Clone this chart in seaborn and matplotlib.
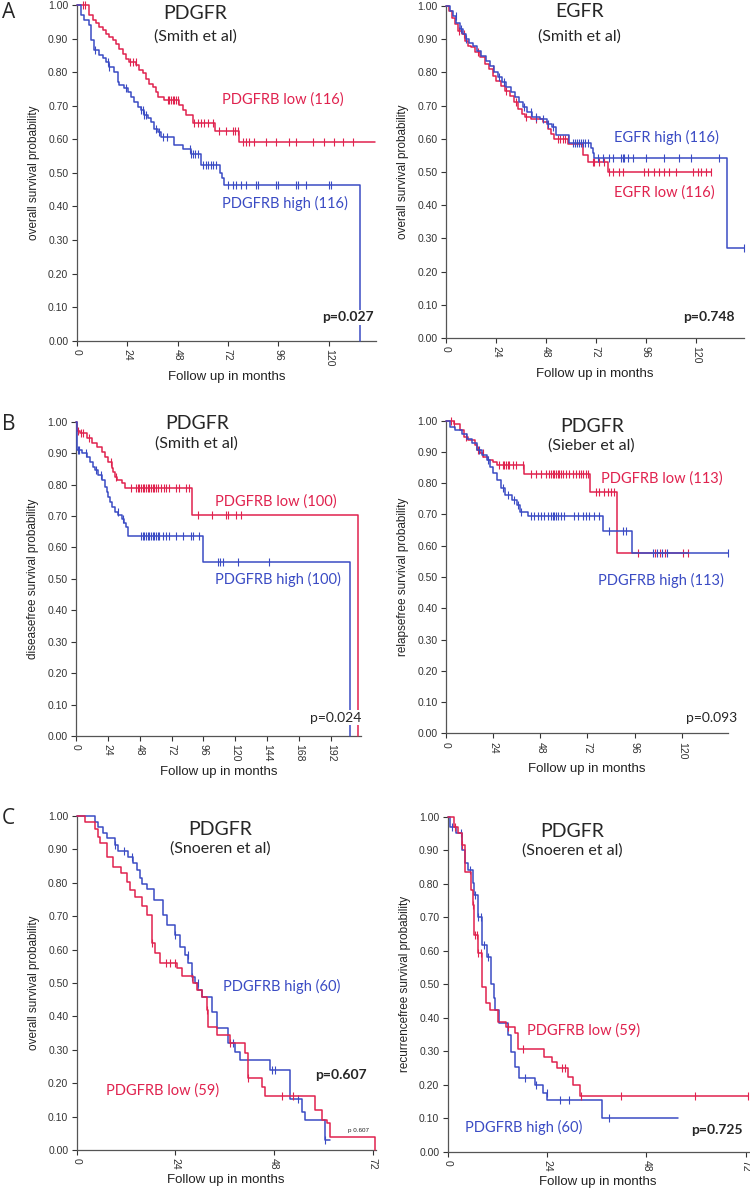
import matplotlib
matplotlib.use("Agg")
import matplotlib.pyplot as plt
import seaborn as sns
import numpy as np
import pandas as pd

RED = "#e0224e"
BLUE = "#3a4bc4"

# ---- A left: PDGFR, overall survival (Smith et al) ----
a1_low_t = [0, 5.7, 7.6, 9.2, 10.8, 12.4, 14.0, 15.5, 17.1, 18.7, 20.3, 21.9, 23.5, 25.1, 28.2, 29.8,
            31.4, 33.0, 34.6, 36.2, 37.8, 38.6, 41.7, 48.9, 50.5, 52.1, 55.2, 66.0, 77.1, 142.0]
a1_low_s = [1.0, 0.970, 0.955, 0.945, 0.935, 0.925, 0.915, 0.905, 0.895, 0.885, 0.870, 0.855, 0.840, 0.830,
            0.820, 0.806, 0.796, 0.781, 0.766, 0.756, 0.741, 0.727, 0.717, 0.702, 0.687, 0.672, 0.649, 0.625,
            0.593, 0.593]
a1_low_c = [2.9, 4.0, 25.5, 27.0, 28.0, 43.3, 44.1, 44.9, 45.7, 46.5, 47.3, 48.1, 56.0, 57.6, 59.2, 60.8,
            62.4, 64.8, 67.9, 71.1, 74.3, 75.5, 76.7, 79.0, 80.6, 82.2, 84.6, 90.1, 94.9, 101.2, 104.4, 112.4,
            117.9, 122.7, 126.7, 131.4]
a1_high_t = [0, 2.0, 3.6, 6.0, 6.8, 8.4, 10.8, 12.4, 14.0, 15.5, 17.9, 19.5, 20.3, 22.7, 24.3, 25.9, 27.4,
             29.0, 30.6, 32.2, 33.8, 35.4, 37.0, 38.6, 40.1, 46.5, 50.5, 54.4, 59.2, 68.2, 69.2, 70.3, 134.9]
a1_high_s = [1.0, 0.970, 0.955, 0.940, 0.896, 0.866, 0.850, 0.841, 0.831, 0.816, 0.801, 0.771, 0.761, 0.752,
             0.742, 0.727, 0.712, 0.697, 0.687, 0.672, 0.662, 0.652, 0.632, 0.622, 0.608, 0.583, 0.570, 0.557,
             0.523, 0.499, 0.485, 0.464, 0.0]
a1_high_c = [8.9, 14.8, 15.6, 23.5, 30.6, 31.4, 32.2, 33.0, 37.8, 39.4, 41.0, 43.0, 53.8, 54.6, 55.4, 56.2,
             57.7, 60.3, 61.5, 62.7, 63.9, 65.1, 66.3, 71.9, 74.3, 75.9, 78.2, 80.6, 85.4, 86.2, 94.9, 95.7,
             104.4, 105.2, 109.2, 120.3, 121.1]

# ---- A right: EGFR, overall survival (Smith et al) ----
a2_high_t = [0, 2.0, 3.5, 5.0, 6.5, 8.0, 9.5, 11.0, 13.0, 15.0, 17.0, 19.0, 21.0, 23.0, 25.0, 27.0, 29.0,
             31.0, 33.0, 35.0, 37.0, 39.0, 41.5, 45.0, 48.5, 51.0, 53.0, 59.0, 69.6, 70.4, 71.2, 134.9, 143.0]
a2_high_s = [1.0, 0.985, 0.97, 0.95, 0.93, 0.915, 0.90, 0.89, 0.88, 0.865, 0.85, 0.835, 0.82, 0.80, 0.785,
             0.77, 0.755, 0.74, 0.725, 0.71, 0.695, 0.68, 0.665, 0.66, 0.645, 0.635, 0.61, 0.588, 0.572, 0.557,
             0.541, 0.272, 0.272]
a2_high_c = [4.8, 7.2, 9.6, 25.6, 28.0, 37.6, 40.8, 43.2, 46.4, 48.8, 51.2, 60.8, 61.8, 62.8, 63.8, 64.8,
             65.8, 66.8, 68.0, 72.8, 75.2, 78.4, 80.0, 84.0, 84.8, 85.6, 87.2, 89.6, 96.0, 104.8, 112.0, 117.6,
             131.2, 143.0]
a2_low_t = [0, 1.5, 3.0, 4.5, 6.0, 7.5, 9.0, 10.5, 12.0, 14.0, 16.5, 18.5, 20.5, 22.5, 24.0, 26.5, 28.5,
            30.5, 32.5, 34.5, 36.5, 38.0, 41.0, 46.5, 49.0, 50.5, 52.0, 58.5, 66.0, 68.3, 77.6, 127.2]
a2_low_s = [1.0, 0.985, 0.965, 0.945, 0.925, 0.915, 0.895, 0.88, 0.875, 0.86, 0.845, 0.825, 0.81, 0.79,
            0.775, 0.76, 0.745, 0.73, 0.71, 0.69, 0.675, 0.665, 0.66, 0.65, 0.63, 0.615, 0.598, 0.585, 0.551,
            0.531, 0.501, 0.501]
a2_low_c = [6.4, 8.8, 15.2, 22.4, 28.8, 33.6, 38.4, 43.2, 53.6, 54.8, 56.0, 57.2, 58.4, 70.4, 71.2, 73.6,
            76.0, 78.4, 80.0, 83.2, 84.8, 95.2, 96.8, 100.0, 102.4, 104.8, 107.2, 110.4, 118.4, 120.8, 122.4,
            124.8, 127.2]

# ---- B left: PDGFR, diseasefree survival (Smith et al) ----
b1_low_t = [0, 0.8, 3.0, 8.0, 11.8, 15.6, 19.3, 21.8, 24.3, 26.9, 28.1, 29.4, 30.6, 34.4, 36.9, 87.5, 212.7]
b1_low_s = [1.0, 0.97, 0.963, 0.947, 0.931, 0.918, 0.905, 0.889, 0.873, 0.852, 0.841, 0.825, 0.814, 0.804,
            0.790, 0.703, 0.0]
b1_low_c = [1.3, 3.8, 5.0, 10.0, 26.4, 30.1, 41.4, 45.2, 46.4, 47.7, 48.9, 50.2, 51.5, 52.7, 54.0, 55.2,
            56.5, 57.7, 59.0, 60.2, 61.5, 64.0, 66.5, 67.8, 70.3, 75.3, 77.8, 82.8, 85.3, 91.6, 102.4, 113.0,
            114.2, 120.5, 124.2]
b1_high_t = [0, 0.5, 4.3, 8.0, 10.5, 12.5, 14.3, 16.8, 19.3, 21.8, 23.1, 24.3, 25.6, 27.4, 29.4, 31.9, 34.4,
             36.1, 37.7, 39.4, 95.4, 206.3]
b1_high_s = [1.0, 0.91, 0.899, 0.889, 0.873, 0.857, 0.846, 0.83, 0.814, 0.793, 0.777, 0.761, 0.745, 0.73,
             0.714, 0.703, 0.692, 0.679, 0.666, 0.637, 0.553, 0.0]
b1_high_c = [1.3, 2.0, 7.5, 15.1, 18.8, 31.4, 35.1, 48.9, 50.2, 51.5, 52.7, 54.0, 55.2, 56.5, 57.7, 59.0,
             60.2, 61.5, 62.8, 65.3, 67.8, 70.3, 75.3, 80.3, 86.6, 87.9, 92.9, 106.7, 108.4, 110.4, 121.7, 145.1]

# ---- B right: PDGFR, relapsefree survival (Sieber et al) ----
b2_low_t = [0, 4.0, 7.1, 9.3, 11.4, 14.8, 15.6, 17.3, 19.0, 21.6, 24.1, 25.8, 39.6, 73.3, 86.8, 123.4]
b2_low_s = [1.0, 0.991, 0.97, 0.949, 0.938, 0.922, 0.906, 0.896, 0.885, 0.874, 0.869, 0.858, 0.831, 0.771,
            0.576, 0.576]
b2_low_c = [2.5, 4.2, 10.2, 16.1, 18.7, 27.2, 28.9, 29.7, 30.5, 31.4, 32.2, 33.9, 35.6, 39.0, 43.3, 45.8,
            48.4, 50.9, 52.6, 53.5, 54.3, 55.2, 56.0, 56.9, 57.7, 58.6, 59.4, 61.1, 62.8, 64.5, 66.2, 67.9,
            68.7, 69.6, 71.3, 72.1, 76.4, 78.1, 80.6, 82.3, 84.0, 85.7, 97.9, 106.4, 109.0, 111.5, 120.8, 123.4]
b2_high_t = [0, 2.0, 4.6, 8.0, 10.5, 13.1, 15.6, 18.2, 20.7, 22.4, 24.1, 25.8, 28.0, 30.0, 33.4, 36.0, 37.7,
             41.9, 79.8, 94.5, 143.8]
b2_high_s = [1.0, 0.981, 0.97, 0.959, 0.943, 0.928, 0.906, 0.89, 0.874, 0.853, 0.832, 0.81, 0.784, 0.762,
             0.746, 0.73, 0.709, 0.695, 0.648, 0.576, 0.576]
b2_high_c = [17.0, 21.2, 28.9, 31.4, 34.8, 36.5, 38.2, 43.3, 45.0, 46.7, 48.4, 50.1, 51.8, 53.5, 54.3, 55.2,
             56.0, 56.9, 58.6, 60.2, 65.3, 67.0, 69.6, 71.3, 73.0, 75.5, 78.1, 83.2, 90.0, 91.6, 105.6, 107.3,
             109.8, 112.4, 143.8]

# ---- C left: PDGFR, overall survival (Snoeren et al) ----
c1_high_t = [0, 4.5, 5.3, 6.5, 7.3, 9.3, 10.1, 12.6, 13.8, 14.6, 15.4, 15.8, 17.0, 18.7, 21.1, 21.9, 23.9,
             25.1, 26.4, 27.2, 28.0, 28.8, 29.6, 30.4, 32.8, 34.1, 36.9, 38.5, 39.7, 47.0, 51.9, 54.7, 55.6,
             60.4, 61.6]
c1_high_s = [1.0, 0.983, 0.968, 0.95, 0.933, 0.913, 0.895, 0.878, 0.86, 0.838, 0.813, 0.796, 0.78, 0.749,
             0.704, 0.674, 0.644, 0.609, 0.584, 0.559, 0.519, 0.499, 0.479, 0.459, 0.414, 0.364, 0.319, 0.294,
             0.269, 0.24, 0.152, 0.115, 0.09, 0.03, 0.03]
c1_high_c = [9.3, 11.4, 13.4, 23.9, 27.0, 28.0, 29.5, 38.1, 47.4, 48.2, 53.9, 60.4]
c1_low_t = [0, 2.0, 4.5, 5.3, 5.7, 7.3, 8.9, 10.9, 12.2, 13.0, 14.2, 15.8, 17.0, 18.2, 19.1, 20.3, 24.3,
            25.5, 28.4, 29.2, 30.4, 31.6, 32.0, 34.1, 37.3, 41.0, 41.8, 45.0, 45.8, 58.0, 59.6, 60.8, 61.6, 72.6]
c1_low_s = [1.0, 0.982, 0.96, 0.938, 0.918, 0.878, 0.846, 0.83, 0.803, 0.778, 0.758, 0.731, 0.704, 0.619,
            0.589, 0.561, 0.544, 0.521, 0.499, 0.479, 0.459, 0.419, 0.369, 0.344, 0.319, 0.289, 0.215, 0.19,
            0.162, 0.12, 0.09, 0.08, 0.04, 0.0]
c1_low_c = [18.2, 21.8, 22.6, 23.9, 31.6, 37.3, 41.8, 49.9, 52.7]

# ---- C right: PDGFR, recurrencefree survival (Snoeren et al) ----
c2_low_t = [0, 1.5, 2.6, 3.5, 4.2, 4.3, 5.6, 6.2, 6.4, 7.4, 8.4, 9.2, 10.2, 12.2, 14.2, 16.3, 17.1, 23.2,
            25.2, 26.4, 29.0, 30.4, 31.9, 72.6]
c2_low_s = [1.0, 0.97, 0.95, 0.917, 0.881, 0.836, 0.781, 0.736, 0.647, 0.592, 0.493, 0.443, 0.423, 0.388,
            0.373, 0.353, 0.308, 0.284, 0.269, 0.249, 0.224, 0.199, 0.166, 0.166]
c2_low_c = [1.8, 3.5, 6.2, 6.6, 7.0, 7.4, 8.0, 14.6, 18.2, 27.6, 28.4, 32.3, 41.9, 59.8, 72.6]
c2_high_t = [0, 0.6, 1.9, 3.5, 4.3, 5.0, 6.2, 6.4, 7.4, 8.4, 9.6, 10.4, 11.3, 11.5, 12.4, 14.5, 15.4, 16.3,
             17.2, 21.1, 23.1, 24.1, 37.2, 55.7]
c2_high_s = [1.0, 0.97, 0.95, 0.90, 0.861, 0.841, 0.801, 0.766, 0.701, 0.617, 0.582, 0.502, 0.458, 0.423,
             0.383, 0.348, 0.299, 0.254, 0.219, 0.199, 0.174, 0.154, 0.10, 0.10]
c2_high_c = [1.1, 3.2, 5.3, 6.5, 7.4, 8.0, 8.8, 9.8, 18.7, 21.4, 24.0, 27.2, 29.2, 39.0]

sns.set_style("ticks")
plt.rcParams['font.family'] = ['Liberation Sans', 'DejaVu Sans']
LABEL_FONT = ['Lato', 'DejaVu Sans']

fig = plt.figure(figsize=(7.5, 11.93), dpi=100)
W, H = 750.0, 1193.0


def add_axes(l, t, r, b):
    return fig.add_axes([l / W, 1 - b / H, (r - l) / W, (b - t) / H])


def km(ax, t, s, cens, color):
    df = pd.DataFrame({'t': t, 's': s})
    sns.lineplot(data=df, x='t', y='s', ax=ax, color=color, lw=1.1, drawstyle='steps-post',
                 estimator=None, sort=False, clip_on=False, zorder=3)
    cy = np.array(s)[np.searchsorted(t, cens, side='right') - 1]
    sns.scatterplot(x=cens, y=cy, ax=ax, marker='|', s=30, color=color, linewidth=0.8,
                    clip_on=False, zorder=3)


def setup(ax, xmax, xticks, ylabel):
    ax.set_xlim(0, xmax)
    ax.set_ylim(0, 1.0)
    ax.set_xticks(xticks)
    ax.set_xticklabels([str(v) for v in xticks], rotation=-90)
    yt = np.round(np.arange(0, 1.01, 0.1), 2)
    ax.set_yticks(yt)
    ax.set_yticklabels(['%.2f' % v for v in yt])
    ax.tick_params(axis='both', labelsize=7.5, length=3.5, width=0.8, pad=2.5, colors='#333333')
    sns.despine(ax=ax)
    for sp in ['left', 'bottom']:
        ax.spines[sp].set_color('#555555')
        ax.spines[sp].set_linewidth(0.9)
    ax.set_xlabel('Follow up in months', fontsize=9.5, labelpad=3, color='#222222')
    ax.set_ylabel(ylabel, fontsize=8.5, labelpad=6, color='#222222')


def titles(ax, x, name, study, y1, y2):
    ax.text(x, y1, name, ha='center', va='center', fontsize=14, family=LABEL_FONT)
    ax.text(x, y2, study, ha='center', va='center', fontsize=11.5, family=LABEL_FONT)


def group_label(ax, x, y, txt, color):
    ax.text(x, y, txt, ha='left', va='center', fontsize=10.5, color=color, family=LABEL_FONT)


def pval(ax, x, y, txt, bold=True):
    ax.text(x, y, txt, ha='left', va='center', fontsize=10, family=LABEL_FONT,
            fontweight='bold' if bold else 'normal', zorder=5,
            bbox=dict(facecolor='white', edgecolor='none', pad=1.0))


# A left
ax = add_axes(76.7, 5, 376, 340.7)
km(ax, a1_low_t, a1_low_s, a1_low_c, RED)
km(ax, a1_high_t, a1_high_s, a1_high_c, BLUE)
setup(ax, 142.5, [0, 24, 48, 72, 96, 120], 'overall survival probability')
titles(ax, 56.3, 'PDGFR', '(Smith et al)', 0.976, 0.905)
group_label(ax, 69.2, 0.717, 'PDGFRB low (116)', RED)
group_label(ax, 69.2, 0.41, 'PDGFRB high (116)', BLUE)
pval(ax, 116.8, 0.07, 'p=0.027')

# A right
ax = add_axes(446, 6, 744, 338)
km(ax, a2_low_t, a2_low_s, a2_low_c, RED)
km(ax, a2_high_t, a2_high_s, a2_high_c, BLUE)
setup(ax, 143.1, [0, 24, 48, 72, 96, 120], 'overall survival probability')
titles(ax, 64.3, 'EGFR', '(Smith et al)', 0.982, 0.907)
group_label(ax, 80.7, 0.605, 'EGFR high (116)', BLUE)
group_label(ax, 80.7, 0.437, 'EGFR low (116)', RED)
pval(ax, 113.8, 0.063, 'p=0.748')

# B left
ax = add_axes(76, 421.7, 361, 736)
km(ax, b1_low_t, b1_low_s, b1_low_c, RED)
km(ax, b1_high_t, b1_high_s, b1_high_c, BLUE)
setup(ax, 214.6, [0, 24, 48, 72, 96, 120, 144, 168, 192], 'diseasefree survival probability')
titles(ax, 90.9, 'PDGFR', '(Smith et al)', 0.993, 0.929)
group_label(ax, 104.7, 0.745, 'PDGFRB low (100)', RED)
group_label(ax, 104.7, 0.499, 'PDGFRB high (100)', BLUE)
pval(ax, 176.2, 0.058, 'p=0.024', bold=False)

# B right
ax = add_axes(446, 420.7, 728.3, 733.3)
km(ax, b2_low_t, b2_low_s, b2_low_c, RED)
km(ax, b2_high_t, b2_high_s, b2_high_c, BLUE)
setup(ax, 143.7, [0, 24, 48, 72, 96, 120], 'relapsefree survival probability')
titles(ax, 74.2, 'PDGFR', '(Sieber et al)', 0.981, 0.919)
group_label(ax, 78.9, 0.816, 'PDGFRB low (113)', RED)
group_label(ax, 77.2, 0.488, 'PDGFRB high (113)', BLUE)
pval(ax, 122.0, 0.048, 'p=0.093', bold=False)

# C left
ax = add_axes(76.7, 816, 375.5, 1150)
km(ax, c1_high_t, c1_high_s, c1_high_c, BLUE)
km(ax, c1_low_t, c1_low_s, c1_low_c, RED)
setup(ax, 72.7, [0, 24, 48, 72], 'overall survival probability')
titles(ax, 34.9, 'PDGFR', '(Snoeren et al)', 0.961, 0.903)
group_label(ax, 35.5, 0.491, 'PDGFRB high (60)', BLUE)
group_label(ax, 7.2, 0.178, 'PDGFRB low (59)', RED)
pval(ax, 58.0, 0.225, 'p=0.607')
ax.text(66.1, 0.057, 'p 0.607', fontsize=4.5, ha='left', va='center', color='#222222')

# C right
ax = add_axes(447.7, 816.7, 748.5, 1151.7)
km(ax, c2_high_t, c2_high_s, c2_high_c, BLUE)
km(ax, c2_low_t, c2_low_s, c2_low_c, RED)
setup(ax, 72.7, [0, 24, 48, 72], 'recurrencefree survival probability')
titles(ax, 30.1, 'PDGFR', '(Snoeren et al)', 0.955, 0.898)
group_label(ax, 19.1, 0.361, 'PDGFRB low (59)', RED)
group_label(ax, 4.3, 0.072, 'PDGFRB high (60)', BLUE)
pval(ax, 58.8, 0.065, 'p=0.725')

for letter, ypix in [('A', 12), ('B', 425), ('C', 818)]:
    fig.text(2 / W, 1 - ypix / H, letter, ha='left', va='center', fontsize=15, family=['Open Sans', 'DejaVu Sans'])

fig.savefig('out.png', dpi=100)
